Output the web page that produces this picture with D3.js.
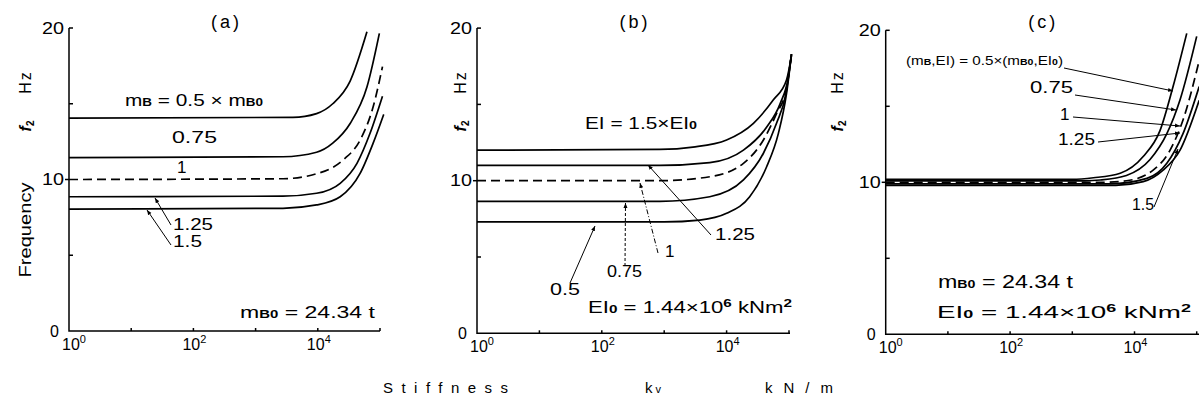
<!doctype html>
<html>
<head>
<meta charset="utf-8">
<title>Frequency vs stiffness</title>
<style>
    body { margin: 0; background: white; }
    text { font-family: "Liberation Sans", Arial, sans-serif; fill: black; }
    .curve { fill: none; stroke: black; stroke-width: 1.7px; }
    .dashed { stroke-dasharray: 9 5; }
    .axis { fill: none; stroke: black; stroke-width: 1.5px; }
    .lead { fill: none; stroke: black; stroke-width: 1px; }
</style>
</head>
<body>
<script src="https://cdn.jsdelivr.net/npm/d3@7"></script>
<script>
    // x values are exponents of k (10^e kN/m), y values are f in Hz
    const ratios = [0.5, 0.75, 1, 1.25, 1.5];

    const massExp = [
        [0, 3.6, 3.98, 4.24, 4.52, 4.79],
        [0, 3.44, 3.98, 4.24, 4.52, 4.79, 4.99],
        [0, 3.44, 3.98, 4.41, 4.68, 4.89, 5.04],
        [0, 3.44, 3.98, 4.36, 4.63, 4.84, 5.04],
        [0, 3.44, 3.98, 4.36, 4.68, 4.89, 5.06]
    ];
    const massFreq = [
        [14.05, 14.1, 14.35, 15.0, 16.5, 19.75],
        [11.45, 11.5, 11.8, 12.4, 13.7, 16.1, 19.65],
        [10.0, 10.05, 10.38, 11.3, 12.6, 14.8, 17.45],
        [8.86, 8.9, 9.09, 9.75, 11.07, 13.05, 15.5],
        [8.05, 8.1, 8.32, 8.86, 10.4, 12.4, 14.3]
    ];

    const eiExp = [
        [0, 3.0, 3.57, 4.0, 4.37, 4.64, 4.83, 4.96, 5.04],
        [0, 2.93, 3.73, 4.27, 4.59, 4.80, 4.95, 5.04],
        [0, 2.93, 3.73, 4.27, 4.59, 4.80, 4.95, 5.04],
        [0, 2.93, 3.73, 4.27, 4.64, 4.86, 4.99, 5.04],
        [0, 2.93, 3.46, 4.0, 4.43, 4.75, 4.96, 5.04]
    ];
    const eiFreq = [
        [7.3, 7.3, 7.42, 7.86, 8.95, 10.9, 13.1, 15.7, 18.3],
        [8.65, 8.65, 8.95, 10.05, 11.8, 13.76, 15.7, 18.3],
        [10.0, 10.0, 10.26, 11.14, 12.67, 14.4, 15.9, 18.3],
        [11.0, 11.0, 11.18, 12.0, 13.5, 15.07, 16.8, 18.3],
        [12.0, 12.05, 12.2, 12.67, 13.76, 15.3, 16.6, 18.2]
    ];

    const bothExp = [
        [0, 3.0, 3.34, 3.77, 4.14, 4.41, 4.62, 4.84],
        [0, 3.2, 3.45, 3.87, 4.25, 4.52, 4.73, 5.0],
        [0, 3.5, 3.87, 4.30, 4.57, 4.78, 5.04],
        [0, 3.6, 4.2, 4.52, 4.78, 5.04],
        [0, 3.7, 4.14, 4.46, 4.73, 5.04]
    ];
    const bothFreq = [
        [10.2, 10.2, 10.3, 10.6, 11.7, 13.4, 16.3, 19.8],
        [10.1, 10.1, 10.15, 10.45, 11.5, 13.2, 15.4, 19.6],
        [10.0, 10.0, 10.1, 10.8, 12.1, 14.1, 18.0],
        [9.9, 9.9, 10.26, 11.25, 13.2, 16.3],
        [9.8, 9.8, 10.04, 10.8, 12.1, 15.4]
    ];

    const yTicks = [0, 5, 10, 15, 20];
    const yLabels = [0, 10, 20];
    const xTicks = [1, 10, 100, 1000, 10000, 100000];
    const xLabels = [0, 2, 4];

    const width = 1199, height = 405;
    const svg = d3.select("body").append("svg")
        .attr("width", width)
        .attr("height", height);

    function panel(left, right, bottom, top, axisEnd, title, exps, freqs) {
        const x = d3.scaleLog().domain([1, 1e5]).range([left, right]);
        const y = d3.scaleLinear().domain([0, 20]).range([bottom, top]);
        const g = svg.append("g");

        g.append("path").attr("class", "axis")
            .attr("d", `M${left} ${top} V${bottom} H${axisEnd}`);
        yTicks.filter(v => v > 0).forEach(v => {
            const dx = v === 10 ? -4 : 4;
            g.append("line").attr("class", "axis")
                .attr("x1", left).attr("x2", left + dx)
                .attr("y1", y(v)).attr("y2", y(v));
        });
        xTicks.filter(v => v > 1).forEach(v => {
            g.append("line").attr("class", "axis")
                .attr("x1", x(v)).attr("x2", x(v))
                .attr("y1", bottom).attr("y2", bottom - 3);
        });
        yLabels.forEach(v => {
            g.append("text").attr("x", left - (v === 0 ? 10 : 5)).attr("y", y(v))
                .attr("dy", "0.35em").attr("text-anchor", "end")
                .attr("font-size", "16px")
                .attr("textLength", v === 0 ? null : 22).attr("lengthAdjust", "spacingAndGlyphs")
                .text(v);
        });
        xLabels.forEach(e => {
            const t = g.append("text").attr("x", x(Math.pow(10, e)) + (e === 0 ? 5 : 1)).attr("y", bottom + 19)
                .attr("text-anchor", "middle").attr("font-size", "16px");
            t.append("tspan").text("10");
            t.append("tspan").attr("font-size", "11px").attr("dy", -7).text(e);
        });
        g.append("text").attr("x", (left + right) / 2 + 2).attr("y", 22)
            .attr("dy", "0.35em").attr("text-anchor", "middle")
            .attr("font-size", "18px").attr("letter-spacing", "3px").text(title);

        const line = d3.line()
            .x(d => x(Math.pow(10, d[0])))
            .y(d => y(d[1]))
            .curve(d3.curveMonotoneX);
        ratios.forEach((r, i) => {
            const pts = exps[i].map((e, j) => [e, freqs[i][j]]);
            g.append("path")
                .attr("class", r === 1 ? "curve dashed" : "curve")
                .attr("d", line(pts));
        });
        return {x, y, g};
    }

    function yTitle(cx, withFreq) {
        svg.append("text").attr("transform", `translate(${cx},82) rotate(-90)`)
            .attr("text-anchor", "middle").attr("dy", "0.35em").attr("font-size", "16px")
            .attr("letter-spacing", "2px").text("Hz");
        const f = svg.append("text").attr("transform", `translate(${cx},126) rotate(-90)`)
            .attr("text-anchor", "middle").attr("dy", "0.35em").attr("font-size", "16px");
        f.append("tspan").attr("font-style", "italic").attr("font-weight", "bold").text("f");
        f.append("tspan").attr("font-size", "10px").attr("font-weight", "bold").attr("dy", 3).text("2");
        if (withFreq) {
            svg.append("text").attr("transform", `translate(${cx},230) rotate(-90)`)
                .attr("text-anchor", "middle").attr("dy", "0.35em").attr("font-size", "17px")
                .attr("textLength", 95).attr("lengthAdjust", "spacingAndGlyphs").text("Frequency");
        }
    }

    // parts: plain strings, {s} for small subscript letters, {s, sup} for superscripts
    function label(x, y, parts, len, size, small) {
        const t = svg.append("text").attr("x", x).attr("y", y).attr("dy", "0.35em")
            .attr("font-size", (size || 16) + "px");
        if (len) t.attr("textLength", len).attr("lengthAdjust", "spacingAndGlyphs");
        let shift = 0;
        parts.forEach(p => {
            const ts = t.append("tspan");
            if (typeof p === "string") {
                ts.attr("dy", -shift).text(p);
                shift = 0;
            } else {
                const want = p.sup ? -6 : 0;
                ts.attr("font-size", (small || 11) + "px").attr("font-weight", "bold")
                    .attr("dy", want - shift).text(p.s);
                shift = want;
            }
        });
        return t;
    }

    svg.append("defs").append("marker")
        .attr("id", "arr").attr("orient", "auto")
        .attr("markerWidth", 6).attr("markerHeight", 6)
        .attr("refX", 5).attr("refY", 3)
        .append("path").attr("d", "M0,1 L5,3 L0,5 Z").attr("fill", "black");

    function lead(x1, y1, x2, y2, dash) {
        svg.append("path").attr("class", "lead")
            .attr("d", `M${x1} ${y1} L${x2} ${y2}`)
            .attr("stroke-dasharray", dash || null)
            .attr("marker-end", "url(#arr)");
    }

    // (a) mass
    panel(69, 380, 331, 28, 380, "(a)", massExp, massFreq);
    yTitle(25, true);
    label(125, 106, ["m", {s: "B"}, " = 0.5 × m", {s: "B0"}], 138, 17);
    label(172, 143, ["0.75"], 45, 17);
    label(177, 173, ["1"], null, 17);
    label(173, 230, ["1.25"], 40, 17);
    label(173, 247, ["1.5"], 29, 17);
    lead(171, 225, 155, 198);
    lead(171, 245, 147, 210);
    label(240, 318, ["m", {s: "B0"}, " = 24.34 t"], 135, 17);

    // (b) bending stiffness
    panel(477, 789, 333.3, 28.1, 790, "(b)", eiExp, eiFreq);
    yTitle(460, false);
    label(585, 129, ["EI = 1.5×EI", {s: "0"}], 112, 16);
    label(715, 240, ["1.25"], 40, 17);
    lead(711, 235, 648, 165, null);
    label(665, 257, ["1"], null, 17);
    lead(658, 253, 640, 183, "5 2 1 2");
    label(607, 277, ["0.75"], 35, 17);
    lead(625, 266, 625.5, 203, "3 2");
    label(550, 295, ["0.5"], 30, 17);
    lead(570, 283, 595, 226);
    label(588, 313, ["EI", {s: "0"}, " = 1.44×10", {s: "6", sup: true}, " kNm", {s: "2", sup: true}], 204, 16);

    // (c) mass and bending stiffness together
    panel(885.7, 1196.7, 334.3, 30.3, 1199, "(c)", bothExp, bothFreq);
    yTitle(837, false);
    label(906, 65, ["(m", {s: "B"}, ",EI) = 0.5×(m", {s: "B0"}, ",EI", {s: "0"}, ")"], 157, 13, 9);
    lead(1064, 68, 1173, 91);
    label(1030, 93, ["0.75"], 43, 17);
    lead(1075, 95, 1176, 110);
    label(1060, 120, ["1"], null, 17);
    lead(1073, 117, 1180, 126);
    label(1058, 145, ["1.25"], 37, 17);
    lead(1098, 142, 1180, 133);
    label(1132, 210, ["1.5"], 22, 17);
    lead(1154, 207, 1178, 149);
    label(938, 288, ["m", {s: "B0"}, " = 24.34 t"], 135, 18);
    label(937, 318, ["EI", {s: "0"}, " = 1.44×10", {s: "6", sup: true}, " kNm", {s: "2", sup: true}], 254, 17);

    // shared x title
    svg.append("text").attr("x", 383).attr("y", 388).attr("dy", "0.35em")
        .attr("font-size", "15px").attr("textLength", 125).attr("lengthAdjust", "spacing").text("Stiffness");
    const kv = svg.append("text").attr("x", 645).attr("y", 388).attr("dy", "0.35em").attr("font-size", "15px");
    kv.append("tspan").text("k");
    kv.append("tspan").attr("font-size", "11px").attr("dx", 3).text("v");
    svg.append("text").attr("x", 765).attr("y", 388).attr("dy", "0.35em")
        .attr("font-size", "15px").attr("textLength", 68).attr("lengthAdjust", "spacing").text("kN/m");
</script>
</body>
</html>
